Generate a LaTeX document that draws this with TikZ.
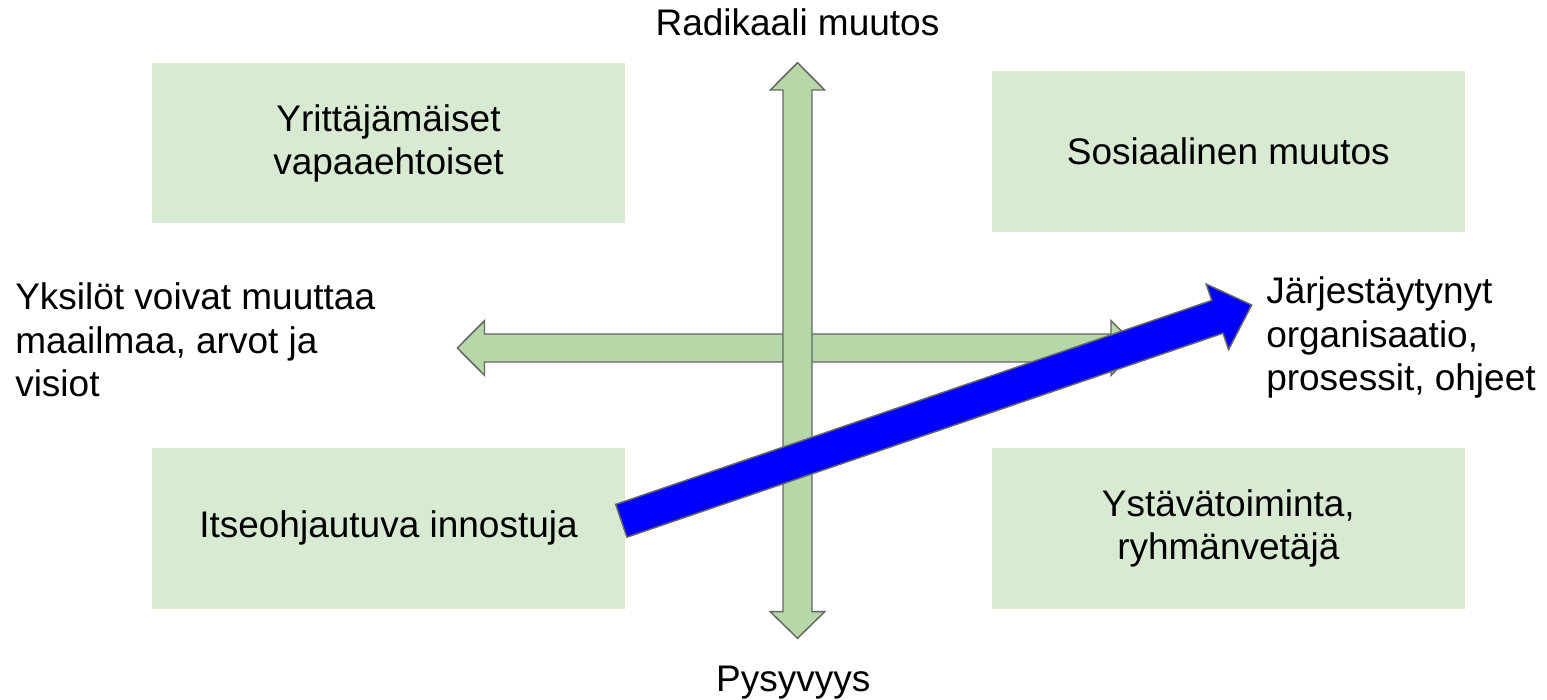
\documentclass[tikz,border=0pt]{standalone}
\usepackage{fontspec}
\setmainfont{Liberation Sans}
\usepackage{xcolor}
\usepackage{tikz}

\definecolor{boxgreen}{HTML}{D9EAD3}
\definecolor{axisgreen}{HTML}{B6D7A8}
\definecolor{edgegray}{HTML}{666666}
\definecolor{trendblue}{HTML}{0000FF}

\newcommand{\quadfont}{\fontsize{27.75}{32.5}\selectfont}

\begin{document}
\begin{tikzpicture}[x=0.75pt,y=0.75pt,yscale=-1,xscale=1,
  quadbox/.style={fill=boxgreen, inner sep=0pt, minimum width=354.75pt, minimum height=120.3pt, align=center, font=\quadfont},
  axisarrow/.style={fill=axisgreen, draw=edgegray, line width=1.1pt},
  trendarrow/.style={fill=trendblue, draw=edgegray, line width=1.1pt},
  axislabel/.style={inner sep=0pt, font=\quadfont}]

\useasboundingbox (0,0) rectangle (1547,700);

% quadrants
\node [quadbox] (entre) at (388.5,143.2) {Yrittäjämäiset\\vapaaehtoiset};
\node [quadbox] (social) at (1228.3,151.3) {Sosiaalinen muutos};
\node [quadbox] (selfled) at (388.5,528.3) {Itseohjautuva innostuja};
\node [quadbox] (friends) at (1228.3,528.3) {Ystävätoiminta,\\ryhmänvetäjä};

% horizontal axis
\draw [axisarrow] (457.3,348) -- (484.5,320.7) -- (484.5,334) -- (1111,334) -- (1111,320.7) -- (1138.3,348) -- (1111,375.3) -- (1111,362) -- (484.5,362) -- (484.5,375.3) -- cycle ;

% vertical axis
\draw [axisarrow] (797.5,62.7) -- (824.7,90) -- (812,90) -- (812,611.7) -- (824.7,611.7) -- (797.5,638.3) -- (770.3,611.7) -- (783,611.7) -- (783,90) -- (770.3,90) -- cycle ;

% trend
\draw [trendarrow] (615.7,504.4) -- (1211.8,300.4) -- (1206.2,284.1) -- (1251.7,305) -- (1228.6,349.5) -- (1223,333.2) -- (626.9,537.2) -- cycle ;

\node [axislabel, anchor=base] (radical) at (797.5,35) {Radikaali muutos};
\node [axislabel, anchor=base] (stable) at (793.3,691.5) {Pysyvyys};
\node [axislabel, anchor=north west, align=left] (individual) at (15,282.8) {Yksilöt voivat muuttaa\\maailmaa, arvot ja\\visiot};
\node [axislabel, anchor=north west, align=left] (organised) at (1266,276.8) {Järjestäytynyt\\organisaatio,\\prosessit, ohjeet};

\end{tikzpicture}
\end{document}
